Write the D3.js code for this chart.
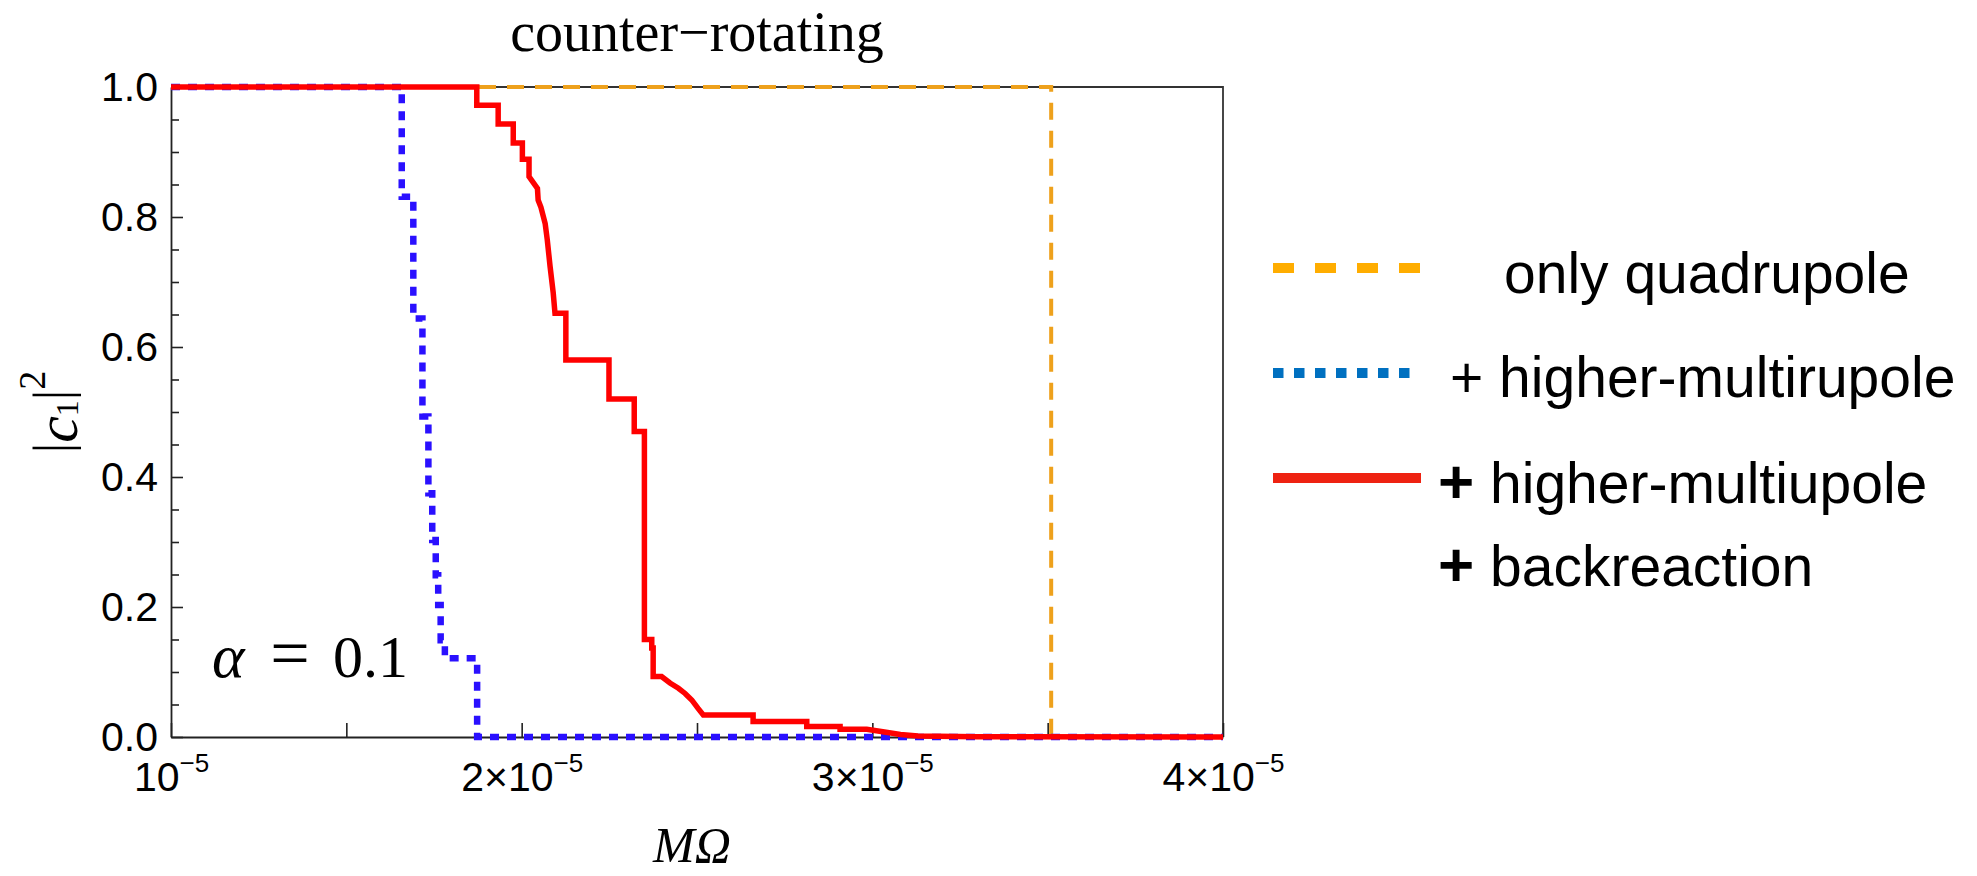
<!DOCTYPE html>
<html>
<head>
<meta charset="utf-8">
<script src="https://cdn.jsdelivr.net/npm/d3@7"></script>
<style>
  body { margin: 0; background: #ffffff; }
  svg { display: block; }
</style>
</head>
<body>
<svg id="chart" width="1977" height="876"></svg>
<script>
// M*Omega is stored in units of 1e-5
const xDomain = [1, 4];
const xTickValues = [1, 1.5, 2, 2.5, 3, 3.5, 4];
const xTickMantissa = { 1: "10", 2: "2×10", 3: "3×10", 4: "4×10" };
const xTickExponent = "−5";
const yMajorTicks = [0, 0.2, 0.4, 0.6, 0.8, 1.0];
const yMinorTicks = [0.05, 0.1, 0.15, 0.25, 0.3, 0.35, 0.45, 0.5, 0.55, 0.65, 0.7, 0.75, 0.85, 0.9, 0.95];

// only quadrupole (step levels)
const quadX = [1, 3.51, 4];
const quadY = [1, 0, 0];

// + higher multipoles (step levels)
const multiX = [1, 1.658, 1.691, 1.717, 1.734, 1.745, 1.755, 1.762, 1.769, 1.781, 1.873, 4];
const multiY = [1, 0.831, 0.644, 0.493, 0.375, 0.303, 0.249, 0.203, 0.149, 0.121, 0, 0];

// + higher multipoles + backreaction (polyline vertices)
const backX = [1, 1.872, 1.872, 1.933, 1.933, 1.976, 1.976, 2.002, 2.002, 2.021, 2.021, 2.045, 2.047,
  2.055, 2.067, 2.073, 2.081, 2.090, 2.095, 2.126, 2.126, 2.249, 2.249, 2.321, 2.321, 2.350, 2.350,
  2.371, 2.371, 2.375, 2.375, 2.399, 2.423, 2.447, 2.466, 2.485, 2.503, 2.518, 2.660, 2.660, 2.813,
  2.813, 2.908, 2.908, 2.984, 3.03, 3.08, 3.13, 3.30, 4.0];
const backY = [1, 1, 0.972, 0.972, 0.943, 0.943, 0.914, 0.914, 0.889, 0.889, 0.862, 0.844, 0.826,
  0.815, 0.790, 0.765, 0.724, 0.683, 0.652, 0.652, 0.580, 0.580, 0.520, 0.520, 0.470, 0.470, 0.150,
  0.150, 0.137, 0.137, 0.093, 0.093, 0.083, 0.075, 0.067, 0.057, 0.044, 0.034, 0.034, 0.024, 0.024,
  0.016, 0.016, 0.012, 0.012, 0.008, 0.004, 0.0015, 0.0005, 0];

const legendLabels = ["only quadrupole", "+ higher-multirupole", "+ higher-multiupole", "+ backreaction"];

const sans = "'Liberation Sans', Arial, 'DejaVu Sans', sans-serif";
const serif = "'Liberation Serif', 'Times New Roman', 'DejaVu Serif', serif";

const svg = d3.select("#chart");
svg.append("rect").attr("width", 1977).attr("height", 876).attr("fill", "#ffffff");

const plot = { left: 171, right: 1223, top: 87, bottom: 737 };
const x = d3.scaleLinear().domain(xDomain).range([plot.left, plot.right]);
const y = d3.scaleLinear().domain([0, 1]).range([plot.bottom, plot.top]);

// frame (top and right)
svg.append("path")
  .attr("d", `M${plot.left},${plot.top}H${plot.right}V${plot.bottom}`)
  .attr("fill", "none").attr("stroke", "#333").attr("stroke-width", 1.8);

// x axis
const xAxis = svg.append("g")
  .attr("transform", `translate(0,${plot.bottom})`)
  .call(d3.axisBottom(x).tickValues(xTickValues).tickSize(-14).tickSizeOuter(0)
    .tickFormat(d => xTickMantissa[d] || ""));
xAxis.select(".domain").attr("stroke", "#222").attr("stroke-width", 1.8);
xAxis.selectAll(".tick line").attr("stroke", "#222").attr("stroke-width", 1.6);
xAxis.selectAll(".tick text")
  .attr("y", 54).attr("dy", null)
  .attr("fill", "#000")
  .style("font-family", sans).style("font-size", "41px")
  .each(function (d) {
    if (!xTickMantissa[d]) return;
    d3.select(this).append("tspan").attr("dy", -19).style("font-size", "26px").text(xTickExponent);
  });

// y axis: minor ticks, then labelled major ticks
const yMinor = svg.append("g")
  .attr("transform", `translate(${plot.left},0)`)
  .call(d3.axisLeft(y).tickValues(yMinorTicks).tickSize(-8).tickSizeOuter(0).tickFormat(""));
yMinor.select(".domain").attr("stroke", "#222").attr("stroke-width", 1.8);
yMinor.selectAll(".tick line").attr("stroke", "#222").attr("stroke-width", 1.6);

const yMajor = svg.append("g")
  .attr("transform", `translate(${plot.left},0)`)
  .call(d3.axisLeft(y).tickValues(yMajorTicks).tickSize(-12).tickSizeOuter(0)
    .tickPadding(13).tickFormat(d3.format(".1f")));
yMajor.select(".domain").remove();
yMajor.selectAll(".tick line").attr("stroke", "#222").attr("stroke-width", 1.6);
yMajor.selectAll(".tick text")
  .attr("x", -13).attr("fill", "#000")
  .style("font-family", sans).style("font-size", "41px");

// series
const stepLine = d3.line().x(d => x(d[0])).y(d => y(d[1])).curve(d3.curveStepAfter);
const polyLine = d3.line().x(d => x(d[0])).y(d => y(d[1]));

svg.append("path")
  .datum(d3.zip(quadX, quadY))
  .attr("d", stepLine)
  .attr("fill", "none").attr("stroke", "#eea11c").attr("stroke-width", 4)
  .attr("stroke-dasharray", "17,11");

svg.append("path")
  .datum(d3.zip(multiX, multiY))
  .attr("d", stepLine)
  .attr("fill", "none").attr("stroke", "#2a10ff").attr("stroke-width", 6.5)
  .attr("stroke-dasharray", "9,8");

svg.append("path")
  .datum(d3.zip(backX, backY))
  .attr("d", polyLine)
  .attr("fill", "none").attr("stroke", "#ff0000").attr("stroke-width", 5.5)
  .attr("stroke-linejoin", "miter");

// title
svg.append("text")
  .attr("x", (plot.left + plot.right) / 2).attr("y", 51)
  .attr("text-anchor", "middle")
  .style("font-family", serif).style("font-size", "56px")
  .text("counter−rotating");

// axis titles
svg.append("text")
  .attr("x", 692).attr("y", 862)
  .attr("text-anchor", "middle")
  .style("font-family", serif).style("font-size", "50px").style("font-style", "italic")
  .text("MΩ");

const yl = svg.append("text")
  .attr("transform", "translate(77,412) rotate(-90)")
  .attr("text-anchor", "middle")
  .style("font-family", serif).style("font-size", "52px");
yl.append("tspan").attr("dy", -7).text("|");
yl.append("tspan").attr("dy", 7).style("font-style", "italic").style("font-size", "60px").text("c");
yl.append("tspan").attr("dy", 1).style("font-size", "32px").text("1");
yl.append("tspan").attr("dy", -8).text("|");
yl.append("tspan").attr("dy", -25).style("font-size", "38px").text("2");

// parameter annotation
const alphaG = svg.append("g").style("font-family", serif).attr("fill", "#000");
alphaG.append("text").attr("x", 212).attr("y", 677)
  .style("font-size", "62px").style("font-style", "italic").text("α");
alphaG.append("text").attr("x", 290).attr("y", 677).attr("text-anchor", "middle")
  .style("font-size", "70px").text("=");
alphaG.append("text").attr("x", 333).attr("y", 677)
  .style("font-size", "60px").text("0.1");

// legend
const legend = svg.append("g");
const legendLines = [
  { x0: 1273, x1: 1421, y: 268, color: "#ffad00", dash: "21,21" },
  { x0: 1273, x1: 1415, y: 373, color: "#0070c0", dash: "10.5,10.5" },
  { x0: 1273, x1: 1421, y: 478, color: "#ee2211", dash: null }
];
legendLines.forEach(l => {
  legend.append("line")
    .attr("x1", l.x0).attr("x2", l.x1).attr("y1", l.y).attr("y2", l.y)
    .attr("stroke", l.color).attr("stroke-width", 10)
    .attr("stroke-dasharray", l.dash);
});

const legendText = [
  { x: 1504, y: 293, label: legendLabels[0], bigPlus: false },
  { x: 1450, y: 397, label: legendLabels[1], bigPlus: false },
  { x: 1438, y: 503, label: legendLabels[2], bigPlus: true },
  { x: 1438, y: 586, label: legendLabels[3], bigPlus: true }
];
legendText.forEach(t => {
  const el = legend.append("text")
    .attr("x", t.x).attr("y", t.y)
    .style("font-family", sans).style("font-size", "57px").attr("fill", "#000");
  if (t.bigPlus && t.label.startsWith("+")) {
    el.append("tspan").style("font-weight", "bold").style("font-size", "62px").text("+");
    el.append("tspan").text(t.label.slice(1));
  } else {
    el.text(t.label);
  }
});
</script>
</body>
</html>
